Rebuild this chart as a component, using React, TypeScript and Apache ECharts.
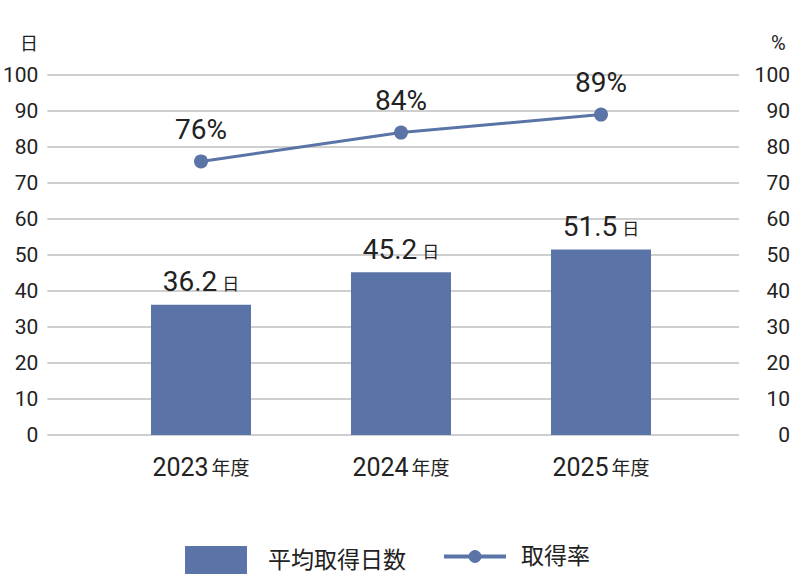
import { useEffect, useRef } from 'react';
import * as echarts from 'echarts';

const categories = ['2023年度', '2024年度', '2025年度'];
const avgDays = [36.2, 45.2, 51.5];
const takeRate = [76, 84, 89];
const axisTicks = [0, 10, 20, 30, 40, 50, 60, 70, 80, 90, 100];

const BLUE = '#5a74a7';
const TEXT = '#222222';
const FONT = "Roboto, 'Noto Sans CJK JP', sans-serif";

export default function App() {
  const chartRef = useRef<HTMLDivElement>(null);

  useEffect(() => {
    if (!chartRef.current) return;
    const chart = echarts.init(chartRef.current, undefined, { renderer: 'svg' });

    const yMin = axisTicks[0];
    const yMax = axisTicks[axisTicks.length - 1];
    const step = axisTicks[1] - axisTicks[0];

    chart.setOption({
      animation: false,
      textStyle: { fontFamily: FONT },
      grid: [
        { left: 47, right: 54, top: 75, bottom: 145 },
        { left: 101, right: 92, top: 75, bottom: 145 },
      ],
      xAxis: [
        { type: 'category', gridIndex: 0, data: categories, show: false },
        {
          type: 'category',
          gridIndex: 1,
          data: categories,
          axisLine: { show: false },
          axisTick: { show: false },
          axisLabel: {
            margin: 20,
            formatter: (v: string) => {
              const m = v.match(/^(\d+)(.*)$/);
              return m ? `{a|${m[1]}}{b|${m[2]}}` : v;
            },
            rich: {
              a: { fontSize: 25, color: TEXT, fontFamily: FONT },
              b: { fontSize: 19, color: TEXT, fontFamily: FONT, padding: [2, 0, 0, 3] },
            },
          },
        },
      ],
      yAxis: [
        {
          type: 'value',
          gridIndex: 0,
          min: yMin,
          max: yMax,
          interval: step,
          axisLine: { show: false },
          axisTick: { show: false },
          axisLabel: { fontSize: 21, color: TEXT, margin: 9 },
          splitLine: { lineStyle: { color: '#cfcfcf', width: 2 } },
        },
        {
          type: 'value',
          gridIndex: 0,
          position: 'right',
          min: yMin,
          max: yMax,
          interval: step,
          axisLine: { show: false },
          axisTick: { show: false },
          axisLabel: { fontSize: 21, color: TEXT, margin: 51, align: 'right' },
          splitLine: { show: false },
        },
        { type: 'value', gridIndex: 1, min: yMin, max: yMax, interval: step, show: false },
        { type: 'value', gridIndex: 1, min: yMin, max: yMax, interval: step, show: false },
      ],
      graphic: [
        { type: 'text', left: 20, top: 34, style: { text: '日', fontSize: 18, fill: TEXT, fontFamily: FONT } },
        { type: 'text', left: 771, top: 33, style: { text: '%', fontSize: 20, fill: TEXT, fontFamily: FONT } },
      ],
      legend: [
        {
          left: 185,
          top: 546,
          padding: 0,
          itemWidth: 62,
          itemHeight: 28,
          textStyle: { fontSize: 23, color: TEXT, padding: [0, 0, 0, 16] },
          data: [{ name: '平均取得日数', icon: 'rect' }],
        },
        {
          left: 442,
          top: 545,
          padding: 0,
          itemWidth: 62,
          itemHeight: 16,
          lineStyle: { width: 4 },
          textStyle: { fontSize: 23, color: TEXT, padding: [0, 0, 0, 10] },
          data: [{ name: '取得率' }],
        },
      ],
      series: [
        {
          name: '平均取得日数',
          type: 'bar',
          xAxisIndex: 1,
          yAxisIndex: 2,
          barWidth: 100,
          data: avgDays,
          itemStyle: { color: BLUE },
          label: {
            show: true,
            position: 'top',
            distance: 9,
            formatter: (p: any) => `{a|${p.value.toFixed(1)}}{b|日}`,
            rich: {
              a: { fontSize: 28, color: TEXT, fontFamily: FONT },
              b: { fontSize: 17, color: TEXT, fontFamily: FONT, padding: [5, 0, 0, 5] },
            },
          },
        },
        {
          name: '取得率',
          type: 'line',
          xAxisIndex: 1,
          yAxisIndex: 3,
          data: takeRate,
          symbol: 'circle',
          symbolSize: 14,
          lineStyle: { color: BLUE, width: 3 },
          itemStyle: { color: BLUE },
          label: {
            show: true,
            position: 'top',
            distance: 11,
            formatter: '{c}%',
            fontSize: 28,
            color: TEXT,
          },
        },
      ],
    });

    return () => {
      chart.dispose();
    };
  }, []);

  return (
    <div
      ref={chartRef}
      style={{ position: 'absolute', left: 0, top: 0, width: 793, height: 580 }}
    />
  );
}
